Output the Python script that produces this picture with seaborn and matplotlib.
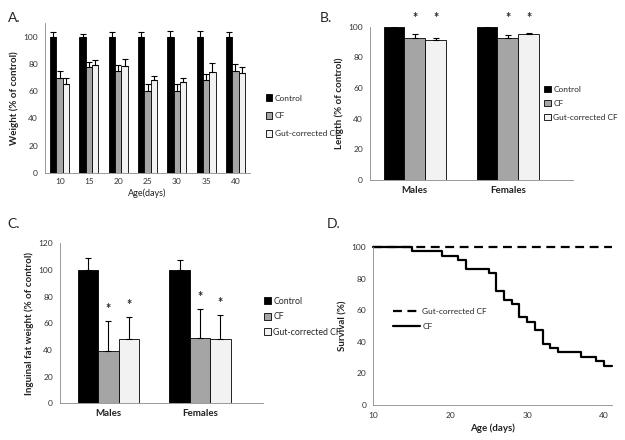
import numpy as np
import pandas as pd
import matplotlib
matplotlib.use("Agg")
import matplotlib.pyplot as plt
import seaborn as sns
from matplotlib.patches import Patch
from matplotlib.lines import Line2D

# ---- data ----
groups = ["Control", "CF", "Gut-corrected CF"]

ages = ["10", "15", "20", "25", "30", "35", "40"]
weight_control = [100, 100, 100, 100, 100, 100, 100]
weight_control_err = [3.5, 2.5, 3.5, 3.5, 4, 4.5, 3.5]
weight_cf = [70, 78, 75, 60, 60, 68, 75]
weight_cf_err = [5, 3.5, 4, 5, 5, 5, 5]
weight_gc = [65, 79, 78.5, 68.5, 67, 74.5, 73.5]
weight_gc_err = [4.5, 4, 5, 3, 3, 6, 4.5]

sexes = ["Males", "Females"]
length_control = [100, 100]
length_control_err = [1.5, 2]
length_cf = [92.5, 92.5]
length_cf_err = [2.5, 2]
length_gc = [91.5, 95]
length_gc_err = [1.5, 1]

fat_control = [100, 100]
fat_control_err = [9, 7]
fat_cf = [39.5, 49]
fat_cf_err = [22, 22]
fat_gc = [48, 48]
fat_gc_err = [17, 18]

surv_days_cf = [10, 15, 19, 21, 22, 25, 26, 27, 28, 29, 30, 31, 32, 33, 34, 37, 39, 40, 41]
surv_cf = [100, 97.2, 94.4, 91.7, 86.1, 83.3, 72.2, 66.7, 63.9, 55.6, 52.8, 47.2,
           38.9, 36.1, 33.3, 30.6, 27.8, 25.0, 25.0]
surv_days_gc = [10, 41]
surv_gc = [100, 100]

palette = {"Control": "black", "CF": "#a5a5a5", "Gut-corrected CF": "#f2f2f2"}

sns.set_style("white")
plt.rcParams["font.family"] = ["Lato", "DejaVu Sans"]
plt.rcParams["axes.edgecolor"] = "#8a8a8a"
plt.rcParams["xtick.color"] = "#8a8a8a"
plt.rcParams["ytick.color"] = "#8a8a8a"
plt.rcParams["xtick.labelcolor"] = "#333333"
plt.rcParams["ytick.labelcolor"] = "#333333"

fig = plt.figure(figsize=(6.25, 4.4), dpi=100)


def long_df(cats, c, cf, gc, ce, cfe, gce):
    rows = []
    for i, cat in enumerate(cats):
        rows.append((cat, "Control", c[i], ce[i]))
        rows.append((cat, "CF", cf[i], cfe[i]))
        rows.append((cat, "Gut-corrected CF", gc[i], gce[i]))
    return pd.DataFrame(rows, columns=["cat", "group", "val", "err"])


def bar_panel(ax, df, cats, width):
    sns.barplot(data=df, x="cat", y="val", hue="group", order=cats, hue_order=groups,
                palette=palette, width=width, gap=0, errorbar=None, edgecolor="black",
                linewidth=0.6, ax=ax, legend=False)
    tops = {}
    for cont, g in zip(ax.containers, groups):
        sub = df[df["group"] == g].set_index("cat").loc[cats]
        xs = [p.get_x() + p.get_width() / 2 for p in cont.patches]
        hs = sub["val"].values
        es = sub["err"].values
        ax.errorbar(xs, hs, yerr=[np.zeros(len(hs)), es], fmt="none", ecolor="black",
                    elinewidth=0.8, capsize=2, capthick=0.8)
        tops[g] = (xs, hs + es)
    sns.despine(ax=ax)
    ax.set_xlabel("")
    ax.tick_params(axis="y", length=3, width=0.6, labelsize=6, pad=2)
    ax.tick_params(axis="x", which="major", length=0, labelsize=6.5, pad=4)
    ax.set_xticks(np.arange(len(cats) + 1) - 0.5, minor=True)
    ax.tick_params(axis="x", which="minor", length=3, width=0.6)
    for s in ax.spines.values():
        s.set_linewidth(0.6)
    return tops


def bar_legend(ax, x, y, spacing, size):
    handles = [Patch(facecolor=palette[g], edgecolor="black", linewidth=0.6) for g in groups]
    ax.legend(handles, groups, loc="center left", bbox_to_anchor=(x, y), frameon=False,
              fontsize=size, handlelength=0.8, handleheight=0.8, handletextpad=0.3,
              labelspacing=spacing, borderaxespad=0)


# ---- A ----
axA = fig.add_axes([0.072, 0.6075, 0.328, 0.3395])
dfA = long_df(ages, weight_control, weight_cf, weight_gc,
              weight_control_err, weight_cf_err, weight_gc_err)
bar_panel(axA, dfA, ages, 0.65)
axA.set_ylim(0, 110)
axA.set_xlim(-0.5, 6.5)
axA.set_yticks([0, 20, 40, 60, 80, 100])
axA.tick_params(axis="x", labelsize=6)
axA.set_ylabel("Weight (% of control)", fontsize=7, fontweight="bold", color="#222222", labelpad=3)
axA.set_xlabel("Age(days)", fontsize=6.5, color="#222222", labelpad=2)
bar_legend(axA, 1.06, 0.38, 1.3, 6)

# ---- B ----
axB = fig.add_axes([0.592, 0.591, 0.325, 0.348])
dfB = long_df(sexes, length_control, length_cf, length_gc,
              length_control_err, length_cf_err, length_gc_err)
topsB = bar_panel(axB, dfB, sexes, 0.67)
axB.set_ylim(0, 100)
axB.set_xlim(-0.48, 1.7)
axB.set_yticks([0, 20, 40, 60, 80, 100])
for lab in axB.get_xticklabels():
    lab.set_fontweight("bold")
    lab.set_fontsize(7)
    lab.set_color("#222222")
axB.set_ylabel("Length (% of control)", fontsize=7, fontweight="bold", color="#222222", labelpad=3)
for g in ["CF", "Gut-corrected CF"]:
    for xv in topsB[g][0]:
        axB.text(xv, 106, "*", ha="center", va="center", fontsize=9, fontweight="bold",
                 clip_on=False)
bar_legend(axB, 0.84, 0.5, 0.85, 6)

# ---- C ----
axC = fig.add_axes([0.096, 0.0834, 0.325, 0.364])
dfC = long_df(sexes, fat_control, fat_cf, fat_gc, fat_control_err, fat_cf_err, fat_gc_err)
topsC = bar_panel(axC, dfC, sexes, 0.67)
axC.set_ylim(0, 120)
axC.set_xlim(-0.53, 1.69)
axC.set_yticks([0, 20, 40, 60, 80, 100, 120])
for lab in axC.get_xticklabels():
    lab.set_fontweight("bold")
    lab.set_fontsize(7)
    lab.set_color("#222222")
axC.set_ylabel("Inguinal fat weight (% of control)", fontsize=7, fontweight="bold",
               color="#222222", labelpad=3)
for g in ["CF", "Gut-corrected CF"]:
    xs, tp = topsC[g]
    for xv, t in zip(xs, tp):
        axC.text(xv, t + 9, "*", ha="center", va="center", fontsize=9, fontweight="bold")
bar_legend(axC, 0.985, 0.54, 0.75, 6.3)

# ---- D ----
axD = fig.add_axes([0.597, 0.0795, 0.382, 0.359])
sns.lineplot(x=surv_days_gc, y=surv_gc, color="black", lw=1.6, ax=axD,
             dashes=False, linestyle=(0, (4, 2.5)), clip_on=False)
sns.lineplot(x=surv_days_cf, y=surv_cf, color="black", lw=1.6, ax=axD,
             drawstyle="steps-post", clip_on=False)
axD.set_xlim(10, 41)
axD.set_ylim(0, 100)
axD.set_xticks([10, 20, 30, 40])
axD.set_yticks([0, 20, 40, 60, 80, 100])
sns.despine(ax=axD)
for s in axD.spines.values():
    s.set_linewidth(0.6)
axD.tick_params(axis="both", length=3, width=0.6, labelsize=6, pad=2)
axD.set_xlabel("Age (days)", fontsize=7, fontweight="bold", color="#222222", labelpad=3)
axD.set_ylabel("Survival (%)", fontsize=7, fontweight="bold", color="#222222", labelpad=3)
lh = [Line2D([], [], color="black", lw=1.6, linestyle=(0, (4, 2.5))),
      Line2D([], [], color="black", lw=1.6)]
axD.legend(lh, ["Gut-corrected CF", "CF"], loc="center left", bbox_to_anchor=(0.07, 0.545),
           frameon=False, fontsize=6, handlelength=3.2, handletextpad=0.3,
           labelspacing=0.9, borderaxespad=0)

# panel letters
fig.text(0.012, 0.972, "A.", fontsize=10, va="top", ha="left")
fig.text(0.512, 0.972, "B.", fontsize=10, va="top", ha="left")
fig.text(0.012, 0.505, "C.", fontsize=10, va="top", ha="left")
fig.text(0.522, 0.505, "D.", fontsize=10, va="top", ha="left")

fig.savefig("out.png", dpi=100)
plt.close(fig)
